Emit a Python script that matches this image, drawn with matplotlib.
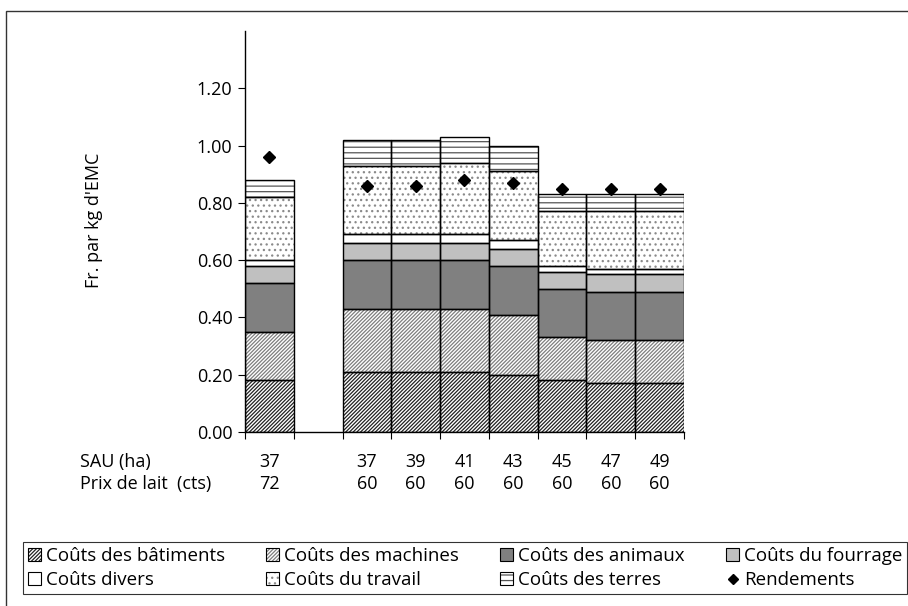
import matplotlib
matplotlib.use("Agg")
import matplotlib.pyplot as plt
from matplotlib.patches import Patch, Rectangle
from matplotlib.lines import Line2D
from matplotlib.legend_handler import HandlerTuple
from matplotlib.transforms import blended_transform_factory

plt.rcParams['font.family'] = ['Open Sans', 'DejaVu Sans']
plt.rcParams['hatch.linewidth'] = 0.9

# SAU and milk price per farm (second column is an empty spacer)
sau = ["37", "", "37", "39", "41", "43", "45", "47", "49"]
prix = ["72", "", "60", "60", "60", "60", "60", "60", "60"]

# cost components, Fr. per kg EMC
batiments = [0.18, 0, 0.21, 0.21, 0.21, 0.20, 0.18, 0.17, 0.17]
machines = [0.17, 0, 0.22, 0.22, 0.22, 0.21, 0.15, 0.15, 0.15]
animaux = [0.17, 0, 0.17, 0.17, 0.17, 0.17, 0.17, 0.17, 0.17]
fourrage = [0.06, 0, 0.06, 0.06, 0.06, 0.06, 0.06, 0.06, 0.06]
divers = [0.02, 0, 0.03, 0.03, 0.03, 0.03, 0.02, 0.02, 0.02]
travail = [0.22, 0, 0.24, 0.24, 0.25, 0.24, 0.19, 0.20, 0.20]
terres = [0.06, 0, 0.09, 0.09, 0.09, 0.09, 0.06, 0.06, 0.06]
rendements = [0.96, None, 0.86, 0.86, 0.88, 0.87, 0.85, 0.85, 0.85]

series = [
    ("Coûts des bâtiments", batiments, "white", "/" * 9, "#222222"),
    ("Coûts des machines", machines, "white", "/" * 9, "#7e7e7e"),
    ("Coûts des animaux", animaux, "#808080", "", "#808080"),
    ("Coûts du fourrage", fourrage, "#c0c0c0", "", "#c0c0c0"),
    ("Coûts divers", divers, "white", "", "white"),
    ("Coûts du travail", travail, "white", "...", "#8a8a8a"),
    ("Coûts des terres", terres, "white", "---", "#555555"),
]

fig = plt.figure(figsize=(9.08, 6.06), dpi=100)
ax = fig.add_axes([0.2698, 0.2871, 0.4835, 0.6617])

x = list(range(len(sau)))
bottom = [0.0] * len(sau)
handles = []
labels = []
for name, vals, face, hatch, hcol in series:
    xs = [i for i in x if vals[i] > 0]
    v = [vals[i] for i in xs]
    b = [bottom[i] for i in xs]
    # fill + hatch first, then a plain black outline on top
    ax.bar(xs, v, width=1.0, bottom=b, color=face, hatch=hatch,
           edgecolor=hcol, linewidth=0, zorder=2)
    ax.bar(xs, v, width=1.0, bottom=b, fill=False,
           edgecolor="black", linewidth=1.0, zorder=3)
    for i in x:
        bottom[i] += vals[i]
    # legend key: hatched fill with a black outline drawn over it
    fill = Patch(facecolor=face, hatch=hatch, edgecolor=hcol, linewidth=0)
    outline = Patch(fill=False, edgecolor="black", linewidth=0.8)
    handles.append((fill, outline))
    labels.append(name)

rx = [i for i in x if rendements[i] is not None]
ry = [rendements[i] for i in rx]
ax.plot(rx, ry, linestyle="none", marker="D", markersize=6.5,
        color="black", zorder=4)
handles.append(Line2D([], [], linestyle="none", marker="D", markersize=5,
                      color="black"))
labels.append("Rendements")

ax.set_xlim(-0.5, len(sau) - 0.5)
ax.set_ylim(0, 1.4)
ax.set_yticks([0, 0.2, 0.4, 0.6, 0.8, 1.0, 1.2])
ax.set_yticklabels([f"{t:.2f}" for t in ax.get_yticks()], fontsize=13)
ax.set_xticks([i - 0.5 for i in range(len(sau) + 1)])
ax.set_xticklabels([])
ax.tick_params(axis="y", direction="out", length=5, width=0.8, pad=4)
ax.tick_params(axis="x", direction="out", length=5, width=0.8)
for s in ["top", "right"]:
    ax.spines[s].set_visible(False)
ax.spines["left"].set_linewidth(1.0)
ax.spines["bottom"].set_linewidth(1.0)
ax.set_ylabel("Fr. par kg d'EMC", fontsize=13)
ax.yaxis.set_label_coords(-0.323, 0.529)

trans = blended_transform_factory(ax.transData, ax.transAxes)
for i in x:
    ax.text(i, -0.075, sau[i], transform=trans, ha="center", va="center", fontsize=13)
    ax.text(i, -0.13, prix[i], transform=trans, ha="center", va="center", fontsize=13)
fig.text(80 / 908, 1 - 462 / 606, "SAU (ha)", ha="left", va="center", fontsize=13)
fig.text(80 / 908, 1 - 484 / 606, "Prix de lait  (cts)", ha="left", va="center", fontsize=13)

# legend reads column by column, so interleave the two rows
order = [0, 4, 1, 5, 2, 6, 3, 7]
leg = fig.legend([handles[k] for k in order], [labels[k] for k in order],
                 handler_map={tuple: HandlerTuple(ndivide=1, pad=0)},
                 ncol=4, loc="lower left", mode="expand",
                 bbox_to_anchor=(23 / 908, 12 / 606, 884 / 908, 53 / 606),
                 frameon=True, fancybox=False, edgecolor="black", fontsize=13.5,
                 handlelength=0.7, handleheight=0.7, handletextpad=0.25,
                 borderpad=0.25, labelspacing=0.35, columnspacing=1.0,
                 borderaxespad=0)
leg.get_frame().set_linewidth(0.8)

# outer frame around the whole chart area
fig.patches.append(Rectangle((6 / 908, -0.2), 1.2, 1.2 - 11 / 606,
                             transform=fig.transFigure, fill=False,
                             edgecolor="#333333", linewidth=1.0))

fig.savefig("out.png", dpi=100)
